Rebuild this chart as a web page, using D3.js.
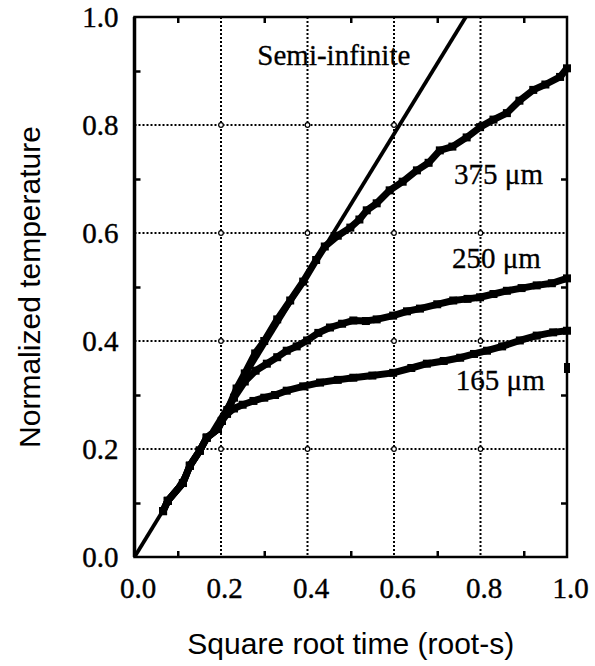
<!DOCTYPE html>
<html>
<head>
<meta charset="utf-8">
<script src="https://cdn.jsdelivr.net/npm/d3@7"></script>
<style>
  body { margin: 0; background: #fff; }
  svg { display: block; }
</style>
</head>
<body>
<svg id="chart"></svg>
<script>
// values: [sqrt(t), normalized temperature]
let semiInfinite = [[0, 0], [0.766, 1.0]];

let early = [[0.066, 0.085], [0.077, 0.104], [0.112, 0.137], [0.128, 0.169],
    [0.151, 0.197], [0.167, 0.221], [0.193, 0.237], [0.202, 0.252]];

let series375 = early.concat([[0.215, 0.272], [0.236, 0.312], [0.255, 0.34], [0.279, 0.377],
    [0.30, 0.40], [0.33, 0.44], [0.36, 0.475], [0.39, 0.51], [0.42, 0.55], [0.44, 0.575],
    [0.47, 0.595], [0.499, 0.61], [0.52, 0.625], [0.537, 0.642], [0.56, 0.655], [0.59, 0.679],
    [0.62, 0.695], [0.653, 0.716], [0.68, 0.73], [0.706, 0.753], [0.735, 0.76], [0.768, 0.777],
    [0.799, 0.796], [0.83, 0.81], [0.861, 0.822], [0.89, 0.845], [0.922, 0.865], [0.95, 0.875],
    [0.984, 0.889], [1.0, 0.905]]);

let series250 = early.concat([[0.215, 0.272], [0.23, 0.295], [0.255, 0.325], [0.28, 0.345],
    [0.306, 0.358], [0.33, 0.37], [0.352, 0.382], [0.375, 0.39], [0.399, 0.401], [0.425, 0.415],
    [0.452, 0.425], [0.48, 0.432], [0.506, 0.438], [0.535, 0.437], [0.56, 0.44], [0.598, 0.447],
    [0.63, 0.455], [0.66, 0.46], [0.70, 0.468], [0.737, 0.475], [0.77, 0.478], [0.799, 0.481],
    [0.83, 0.487], [0.861, 0.493], [0.895, 0.498], [0.93, 0.503], [0.965, 0.507], [1.0, 0.516]]);

let series165 = early.concat([[0.214, 0.265], [0.23, 0.275], [0.25, 0.282], [0.275, 0.289],
    [0.30, 0.295], [0.325, 0.30], [0.352, 0.308], [0.39, 0.316], [0.429, 0.323], [0.47, 0.328],
    [0.506, 0.332], [0.55, 0.336], [0.598, 0.341], [0.64, 0.35], [0.676, 0.358], [0.715, 0.363],
    [0.753, 0.369], [0.785, 0.376], [0.815, 0.382], [0.85, 0.39], [0.891, 0.401], [0.93, 0.41],
    [0.968, 0.416], [1.0, 0.419]]);

let strayPoints = [[1.0, 0.35]];

let curveLabels = [
    {text: "Semi-infinite", x: 0.284, y: 0.912},
    {text: "375 \u03bcm", x: 0.739, y: 0.69},
    {text: "250 \u03bcm", x: 0.734, y: 0.535},
    {text: "165 \u03bcm", x: 0.743, y: 0.309}
];

let majorTicks = [0, 0.2, 0.4, 0.6, 0.8, 1.0];
let gridTicks = [0.2, 0.4, 0.6, 0.8];
let minorTicks = [0.1, 0.3, 0.5, 0.7, 0.9];

let width = 595, height = 666;
let x = d3.scaleLinear().domain([0, 1]).range([134.5, 567]);
let y = d3.scaleLinear().domain([0, 1]).range([557, 17]);

let svg = d3.select("#chart").attr("width", width).attr("height", height);
let serif = "'Liberation Serif', 'Times New Roman', serif";
let sans = "'Liberation Sans', Arial, sans-serif";

// dotted grid
let grid = svg.append("g");
grid.selectAll("line.v").data(gridTicks).enter().append("line")
    .attr("x1", d => x(d)).attr("x2", d => x(d))
    .attr("y1", y(1)).attr("y2", y(0))
    .attr("stroke", "#000").attr("stroke-width", 2).attr("stroke-dasharray", "2,2");
grid.selectAll("line.h").data(gridTicks).enter().append("line")
    .attr("y1", d => y(d)).attr("y2", d => y(d))
    .attr("x1", x(0)).attr("x2", x(1))
    .attr("stroke", "#000").attr("stroke-width", 2).attr("stroke-dasharray", "2,2");
let crossings = d3.cross(gridTicks, gridTicks);
grid.selectAll("circle").data(crossings).enter().append("circle")
    .attr("cx", d => x(d[0])).attr("cy", d => y(d[1])).attr("r", 2.3)
    .attr("fill", "#fff").attr("stroke", "#000").attr("stroke-width", 1.2);

// minor ticks on all four sides, pointing inward
let minorAxes = [
    {axis: d3.axisBottom(x), at: "translate(0," + y(0) + ")"},
    {axis: d3.axisTop(x), at: "translate(0," + y(1) + ")"},
    {axis: d3.axisLeft(y), at: "translate(" + x(0) + ",0)"},
    {axis: d3.axisRight(y), at: "translate(" + x(1) + ",0)"}
];
minorAxes.forEach(function (m) {
    let g = svg.append("g").attr("transform", m.at)
        .call(m.axis.tickValues(minorTicks).tickSize(-6).tickFormat(""));
    g.select(".domain").remove();
    g.selectAll(".tick line").attr("stroke-width", 2.5);
});

// tick labels
let xAxis = svg.append("g").attr("transform", "translate(3," + y(0) + ")")
    .call(d3.axisBottom(x).tickValues(majorTicks).tickSize(0).tickFormat(d3.format(".1f")));
xAxis.select(".domain").remove();
xAxis.selectAll("text").attr("y", 41).attr("dy", 0)
    .attr("font-family", serif).attr("font-size", 29).attr("fill", "#000")
    .attr("stroke", "#000").attr("stroke-width", 0.4);

let yAxis = svg.append("g").attr("transform", "translate(" + x(0) + ",0)")
    .call(d3.axisLeft(y).tickValues(majorTicks).tickSize(0).tickFormat(d3.format(".1f")));
yAxis.select(".domain").remove();
yAxis.selectAll("text").attr("x", -16).attr("dy", "0.34em")
    .attr("font-family", serif).attr("font-size", 29).attr("fill", "#000")
    .attr("stroke", "#000").attr("stroke-width", 0.4);

// data
let line = d3.line().x(d => x(d[0])).y(d => y(d[1]));
let plot = svg.append("g");

plot.append("path").datum(semiInfinite).attr("d", line)
    .attr("fill", "none").attr("stroke", "#000").attr("stroke-width", 3.8);

[series375, series250, series165].forEach(function (s) {
    plot.append("path").datum(s).attr("d", line)
        .attr("fill", "none").attr("stroke", "#000").attr("stroke-width", 7)
        .attr("stroke-linejoin", "round");
    plot.append("g").selectAll("rect").data(s).enter().append("rect")
        .attr("x", d => x(d[0]) - 4).attr("y", d => y(d[1]) - 4)
        .attr("width", 8).attr("height", 8).attr("fill", "#000");
});
plot.append("g").selectAll("rect").data(strayPoints).enter().append("rect")
    .attr("x", d => x(d[0]) - 3).attr("y", d => y(d[1]) - 5)
    .attr("width", 6).attr("height", 10).attr("fill", "#000");

// frame
svg.append("rect")
    .attr("x", x(0)).attr("y", y(1))
    .attr("width", x(1) - x(0)).attr("height", y(0) - y(1))
    .attr("fill", "none").attr("stroke", "#000").attr("stroke-width", 2.5);
svg.append("line")
    .attr("x1", x(0)).attr("x2", x(0)).attr("y1", y(1)).attr("y2", y(0))
    .attr("stroke", "#000").attr("stroke-width", 3.5);

// curve labels
svg.append("g").selectAll("text").data(curveLabels).enter().append("text")
    .attr("x", d => x(d.x)).attr("y", d => y(d.y))
    .attr("font-family", serif).attr("font-size", 29).attr("fill", "#000")
    .attr("stroke", "#000").attr("stroke-width", 0.3)
    .text(d => d.text);

// axis titles
svg.append("text")
    .attr("x", (x(0) + x(1)) / 2).attr("y", 654)
    .attr("text-anchor", "middle")
    .attr("font-family", sans).attr("font-size", 30)
    .text("Square root time (root-s)");

svg.append("text")
    .attr("transform", "translate(40," + ((y(0) + y(1)) / 2) + ") rotate(-90)")
    .attr("text-anchor", "middle")
    .attr("font-family", sans).attr("font-size", 30)
    .text("Normalized temperature");
</script>
</body>
</html>
